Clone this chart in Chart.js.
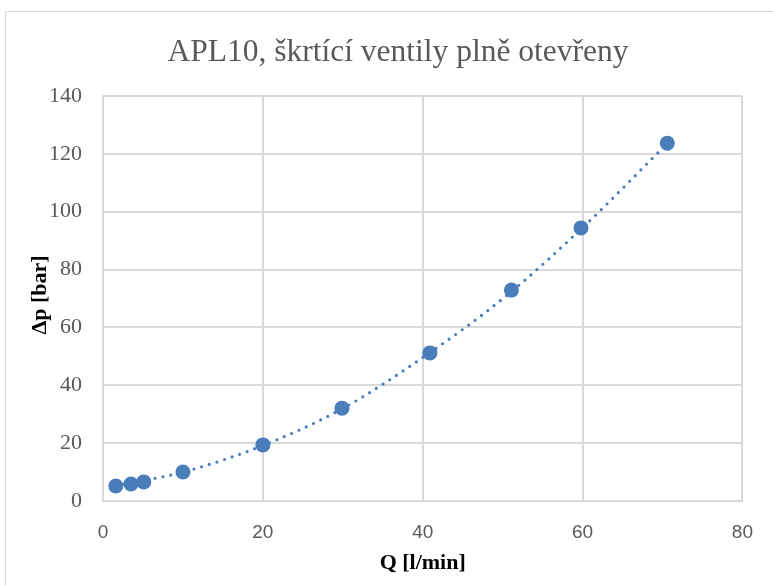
<!DOCTYPE html>
<html>
<head>
<meta charset="utf-8">
<script src="https://cdn.jsdelivr.net/npm/chart.js@4/dist/chart.umd.min.js"></script>
<style>
    html, body { margin: 0; padding: 0; background: #fff; overflow: hidden; }
    #wrap { position: relative; width: 773px; height: 585px; }
    #frame {
        position: absolute; left: 5px; top: 11px; width: 800px; height: 600px;
        border: 1px solid #d9d9d9; box-sizing: border-box;
    }
    #chart { position: absolute; left: 0; top: 0; }
</style>
</head>
<body>
<div id="wrap">
    <div id="frame"></div>
    <canvas id="chart" width="773" height="585"></canvas>
</div>
<script>
// Measured flow / pressure drop
const flowValues = [1.6, 3.5, 5.1, 10, 20, 29.9, 40.9, 51.1, 59.8, 70.6];
const pressureValues = [5.2, 5.9, 6.6, 10, 19.4, 32.1, 51.2, 72.9, 94.4, 123.7];

// Polynomial trendline samples
const trendFlow = [1.6, 10, 20, 30, 40, 50, 60, 70.6];
const trendPressure = [5.3, 10, 19.2, 32, 49.6, 69.9, 94.5, 123.6];

const xTicks = [0, 20, 40, 60, 80];
const yTicks = [0, 20, 40, 60, 80, 100, 120, 140];

const titleText = 'APL10, škrtící ventily plně otevřeny';
const xTitle = 'Q [l/min]';
const yTitle = 'Δp [bar]';

const blue = '#4a7ebb';
const gridColor = '#d9d9d9';

// Title and axis titles drawn by hand so their positions stay fixed
const labelsPlugin = {
    id: 'labels',
    afterDraw(chart) {
        const ctx = chart.ctx;
        const area = chart.chartArea;
        ctx.save();
        ctx.fillStyle = '#595959';
        ctx.font = '31.5px "Liberation Serif", "Times New Roman", serif';
        ctx.textAlign = 'center';
        ctx.textBaseline = 'alphabetic';
        ctx.fillText(titleText, 398, 61);

        ctx.fillStyle = '#000';
        ctx.font = 'bold 22px "Liberation Serif", "Times New Roman", serif';
        ctx.textBaseline = 'middle';
        ctx.fillText(xTitle, (area.left + area.right) / 2, 563);

        ctx.translate(40, 295);
        ctx.rotate(-Math.PI / 2);
        ctx.fillText(yTitle, 0, 0);
        ctx.restore();
    }
};

const ctx = document.getElementById('chart').getContext('2d');
new Chart(ctx, {
    type: 'scatter',
    data: {
        datasets: [{
            label: 'měření',
            data: flowValues.map((q, i) => ({ x: q, y: pressureValues[i] })),
            backgroundColor: blue,
            borderWidth: 0,
            pointRadius: 7.5,
            pointHoverRadius: 7.5,
            order: 0
        }, {
            label: 'trend',
            type: 'line',
            data: trendFlow.map((q, i) => ({ x: q, y: trendPressure[i] })),
            borderColor: blue,
            borderWidth: 3.2,
            borderDash: [0, 8],
            borderCapStyle: 'round',
            cubicInterpolationMode: 'monotone',
            pointRadius: 0,
            fill: false,
            order: 1
        }]
    },
    options: {
        responsive: false,
        animation: false,
        layout: { padding: { left: 0, top: 96, right: 30, bottom: 0 } },
        plugins: {
            legend: { display: false },
            title: { display: false },
            tooltip: { enabled: false }
        },
        scales: {
            x: {
                type: 'linear',
                min: 0,
                max: 80,
                afterBuildTicks: axis => { axis.ticks = xTicks.map(v => ({ value: v })); },
                afterFit: axis => { axis.height = 84; },
                grid: { color: gridColor, lineWidth: 2, drawTicks: false },
                border: { color: gridColor, width: 2 },
                ticks: {
                    padding: 20,
                    color: '#595959',
                    font: { family: '"Liberation Sans", Arial, sans-serif', size: 19 }
                }
            },
            y: {
                type: 'linear',
                min: 0,
                max: 140,
                afterBuildTicks: axis => { axis.ticks = yTicks.map(v => ({ value: v })); },
                afterFit: axis => { axis.width = 103; },
                grid: { color: gridColor, lineWidth: 2, drawTicks: false },
                border: { color: gridColor, width: 2 },
                ticks: {
                    padding: 21,
                    color: '#595959',
                    font: { family: '"Liberation Serif", "Times New Roman", serif', size: 22 }
                }
            }
        }
    },
    plugins: [labelsPlugin]
});
</script>
</body>
</html>
